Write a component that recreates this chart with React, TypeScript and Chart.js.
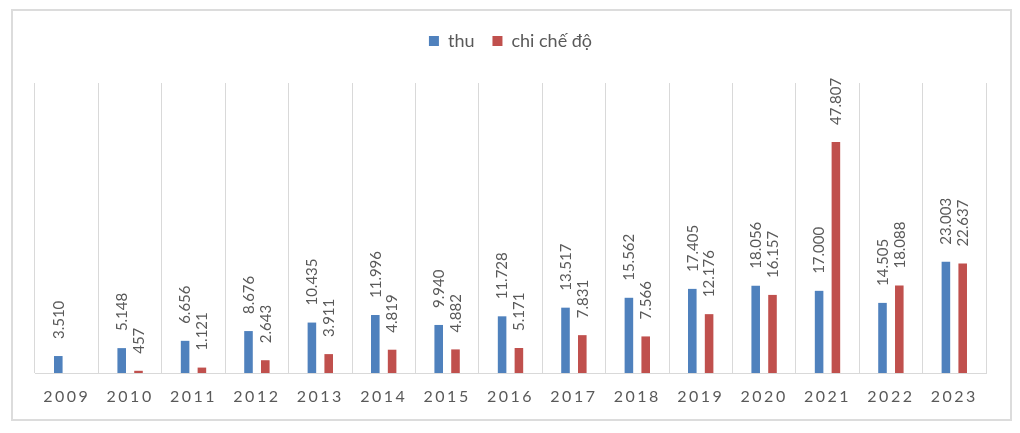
import React, { useEffect, useRef } from "react";
import { Chart, registerables } from "chart.js";

Chart.register(...registerables);

const years = ["2009", "2010", "2011", "2012", "2013", "2014", "2015", "2016", "2017", "2018", "2019", "2020", "2021", "2022", "2023"];
const thu = [3510, 5148, 6656, 8676, 10435, 11996, 9940, 11728, 13517, 15562, 17405, 18056, 17000, 14505, 23003];
const chiCheDo = [null, 457, 1121, 2643, 3911, 4819, 4882, 5171, 7831, 7566, 12176, 16157, 47807, 18088, 22637];
const seriesNames = ["thu", "chi chế độ"];

const BLUE = "#4F81BD";
const RED = "#C0504D";
const TEXT = "#595959";
const GRID = "#d9d9d9";
const FONT = "Lato, 'Open Sans', sans-serif";

function fmt(v: number): string {
  return v.toString().replace(/\B(?=(\d{3})+(?!\d))/g, ".");
}

const dataLabelPlugin = {
  id: "rotLabels",
  afterDatasetsDraw(chart: any) {
    const ctx = chart.ctx;
    chart.data.datasets.forEach((ds: any, di: number) => {
      const meta = chart.getDatasetMeta(di);
      meta.data.forEach((el: any, i: number) => {
        const v = ds.data[i];
        if (v === null || v === undefined) return;
        ctx.save();
        ctx.translate(el.x + 0.5, el.y - 17);
        ctx.rotate(-Math.PI / 2);
        ctx.font = `15px ${FONT}`;
        ctx.fillStyle = TEXT;
        ctx.textAlign = "left";
        ctx.textBaseline = "middle";
        ctx.fillText(fmt(v), 0, 0);
        ctx.restore();
      });
    });
  },
};

const tickSpacingPlugin = {
  id: "tickSpacing",
  afterLayout(chart: any) {
    const s = chart.scales.x;
    if (!s || s._spacedPatch) return;
    const orig = s.drawLabels.bind(s);
    s.drawLabels = (area: any) => {
      const ctx = s.ctx;
      ctx.save();
      (ctx as any).letterSpacing = "2.5px";
      orig(area);
      ctx.restore();
    };
    s._spacedPatch = true;
  },
};

export default function App() {
  const ref = useRef<HTMLCanvasElement>(null);
  useEffect(() => {
    if (!ref.current) return;
    const chart = new Chart(ref.current, {
      type: "bar",
      data: {
        labels: years,
        datasets: [
          { label: seriesNames[0], data: thu, backgroundColor: BLUE, borderWidth: 0, xAxisID: "x", yAxisID: "y" },
          { label: seriesNames[1], data: chiCheDo as any, backgroundColor: RED, borderWidth: 0, xAxisID: "x", yAxisID: "y" },
        ],
      },
      options: {
        responsive: false,
        animation: false,
        events: [],
        categoryPercentage: 0.53,
        barPercentage: 0.51,
        layout: { padding: { top: 14, left: 35, right: 34, bottom: 0 } },
        plugins: {
          legend: {
            display: true,
            position: "top",
            labels: {
              boxWidth: 10,
              boxHeight: 10,
              padding: 18,
              color: TEXT,
              font: { family: FONT, size: 18 },
            },
          },
          tooltip: { enabled: false },
        },
        scales: {
          x: {
            type: "category",
            position: "bottom",
            offset: true,
            grid: { display: true, color: GRID, lineWidth: 1, drawTicks: false, offset: true },
            border: { display: true, color: GRID, width: 1 },
            ticks: {
              color: TEXT,
              font: { family: FONT, size: 16 },
              padding: 14,
              autoSkip: false,
              maxRotation: 0,
              minRotation: 0,
            },
            afterFit: (s: any) => {
              s.height = 60;
            },
          },
          x2: {
            type: "linear",
            position: "top",
            display: true,
            grid: { display: false },
            border: { display: false },
            ticks: { display: false },
            afterFit: (s: any) => {
              s.height = 23;
            },
          },
          y: {
            type: "linear",
            display: false,
            min: 0,
            max: 60000,
          },
        },
      },
      plugins: [dataLabelPlugin, tickSpacingPlugin],
    } as any);
    return () => chart.destroy();
  }, []);

  return (
    <div style={{ position: "absolute", left: 0, top: 0, width: 1020, height: 433, background: "#fff" }}>
      <div
        style={{
          position: "absolute",
          left: 11,
          top: 9,
          width: 1001,
          height: 412,
          boxSizing: "border-box",
          border: "2px solid #dcdcdc",
        }}
      />
      <canvas ref={ref} width={1020} height={433} style={{ position: "absolute", left: 0, top: 0, display: "block" }} />
    </div>
  );
}
